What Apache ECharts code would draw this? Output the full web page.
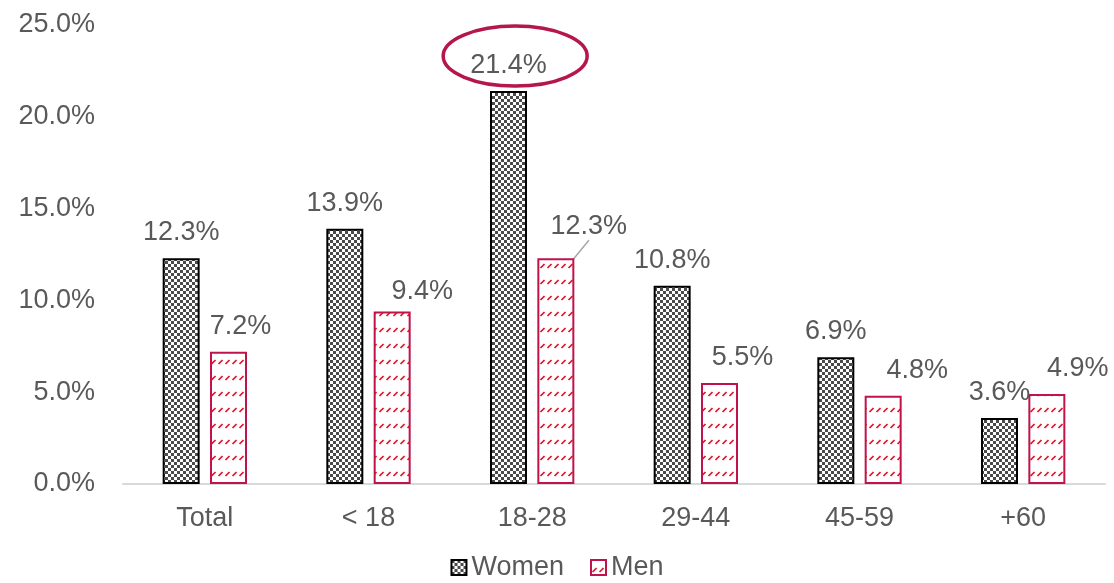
<!DOCTYPE html>
<html><head><meta charset="utf-8">
<script src="https://cdn.jsdelivr.net/npm/echarts@6/dist/echarts.min.js"></script>
<style>html,body{margin:0;padding:0;background:#fff}#c{width:1114px;height:583px}</style>
</head><body><div id="c"></div>
<script>
const categories = ['Total', '< 18', '18-28', '29-44', '45-59', '+60'];
const women = [12.3, 13.9, 21.4, 10.8, 6.9, 3.6];
const men = [7.2, 9.4, 12.3, 5.5, 4.8, 4.9];
const seriesNames = ['Women', 'Men'];
const highlightIndex = 2;

// label nudges (pixels) for Men labels, as placed in the reference
const menLabelShift = [[12, 0], [30, 6], [33, -6], [23, 0], [34, 0], [31, 0]];

function womenPattern() {
  const c = document.createElement('canvas'); c.width = 6; c.height = 6;
  const g = c.getContext('2d');
  g.fillStyle = '#fff'; g.fillRect(0, 0, 6, 6);
  g.fillStyle = '#4a4a4a'; g.fillRect(0, 0, 3, 3); g.fillRect(3, 3, 3, 3);
  return c;
}
function menPattern() {
  const c = document.createElement('canvas'); c.width = 7; c.height = 16;
  const g = c.getContext('2d');
  g.fillStyle = '#fff'; g.fillRect(0, 0, 7, 16);
  g.strokeStyle = '#e3122b'; g.lineWidth = 1.7;
  g.beginPath(); g.moveTo(1.5, 12); g.lineTo(5.5, 8); g.stroke();
  return c;
}

const FONT = 'Liberation Sans, Arial, sans-serif';
const TXT = '#595959';
const chart = echarts.init(document.getElementById('c'));
const option = {
  animation: false,
  textStyle: { fontFamily: FONT },
  grid: { left: 123, right: 9, top: 25, bottom: 99 },
  legend: {
    data: seriesNames, bottom: -3, left: 'center', icon: 'rect',
    itemWidth: 15, itemHeight: 15, itemGap: 26,
    textStyle: { fontSize: 27, color: TXT, fontFamily: FONT }
  },
  xAxis: {
    type: 'category', data: categories,
    axisLine: { lineStyle: { color: '#d9d9d9', width: 2 } },
    axisTick: { show: false },
    axisLabel: { fontSize: 27, color: TXT, margin: 21, fontFamily: FONT }
  },
  yAxis: {
    type: 'value', min: 0, max: 25, interval: 5,
    axisLine: { show: false }, axisTick: { show: false },
    splitLine: { show: false },
    axisLabel: { fontSize: 27, color: TXT, margin: 28, fontFamily: FONT,
      formatter: v => v.toFixed(1) + '%' }
  },
  series: [
    {
      name: seriesNames[0], type: 'bar', data: women,
      barWidth: '22.6%', barGap: '28%',
      itemStyle: { color: { image: womenPattern(), repeat: 'repeat' }, borderColor: '#000', borderWidth: 2 },
      label: { show: true, position: 'top', distance: 12, fontSize: 27, color: TXT, fontFamily: FONT,
        formatter: p => p.value.toFixed(1) + '%' }
    },
    {
      name: seriesNames[1], type: 'bar',
      data: men.map((v, i) => i === highlightIndex ? { value: v, labelLine: { show: true } } : v),
      barWidth: '22.6%', barGap: '28%',
      itemStyle: { color: { image: menPattern(), repeat: 'repeat' }, borderColor: '#c0134a', borderWidth: 2 },
      label: { show: true, position: 'top', distance: 12, fontSize: 27, color: TXT, fontFamily: FONT,
        formatter: p => p.value.toFixed(1) + '%' },
      labelLine: { show: false, lineStyle: { color: '#a6a6a6', width: 1.5 } },
      labelLayout: p => ({ dx: menLabelShift[p.dataIndex][0], dy: menLabelShift[p.dataIndex][1] })
    }
  ]
};
chart.setOption(option);
const pt = chart.convertToPixel({ gridIndex: 0 }, [highlightIndex, women[highlightIndex]]);
chart.setOption({
  graphic: [{
    type: 'ellipse', z: 100,
    shape: { cx: pt[0] - 17, cy: pt[1] - 35, rx: 72, ry: 30 },
    style: { fill: 'none', stroke: '#b5164e', lineWidth: 3.5 }
  }]
});
</script>
</body></html>
